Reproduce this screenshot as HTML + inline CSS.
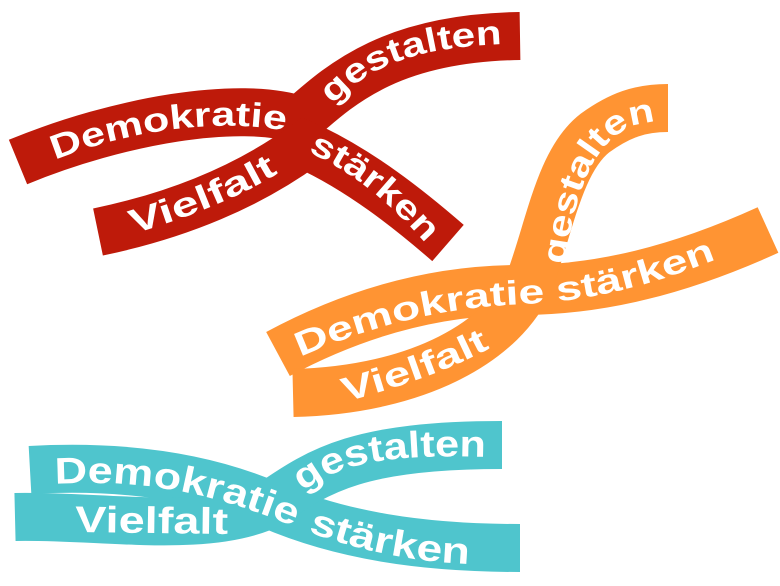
<!DOCTYPE html>
<html><head><meta charset="utf-8"><style>
html,body{margin:0;padding:0;background:#fff;}
svg{display:block}
text{font-family:"Liberation Sans",sans-serif;font-weight:bold;fill:#fff;}
</style></head><body>
<svg width="780" height="586" viewBox="0 0 780 586" xmlns="http://www.w3.org/2000/svg">
<defs>
<path id="rd" d="M55,160 C130,130 220,117 292,132"/>
<path id="rg" d="M333,105 C370,64 420,47 505,44"/>
<path id="rv" d="M133,234 C190,217 240,197 280,172"/>
<path id="rs" d="M308,152 C353,172 388,202 420,237"/>
<path id="od" d="M300,357 C380,322 450,307 525,304 C600,300 660,282 722,257"/>
<path id="ov" d="M345,402 C400,387 450,370 492,347"/>
<path id="og" d="M565,265 C572,215 582,175 602,150 C617,130 637,122 657,122"/>
<path id="td" d="M55,484 C130,480 200,487 295,527"/>
<path id="tg" d="M303,492 C340,462 390,454 490,457"/>
<path id="tv" d="M75,532 L228,534"/>
<path id="ts" d="M308,532 C360,550 410,562 472,564"/>
</defs>
<g fill="none" stroke-linecap="butt">
<path d="M18,162 C120,120 240,100 300,120 C340,85 390,38 520,36" stroke="#be1a0a" stroke-width="48"/>
<path d="M98,232 C180,215 250,185 305,145 C360,170 410,210 448,243" stroke="#be1a0a" stroke-width="48"/>
<path d="M278,354 C360,310 440,290 520,290 C600,290 680,270 768,230" stroke="#ff9433" stroke-width="50"/>
<path d="M293,393 C420,390 505,340 530,280 C550,225 560,160 595,133 C620,115 640,108 668,108" stroke="#ff9433" stroke-width="48"/>
<path d="M30,470 C120,465 200,475 270,505 C340,535 420,548 520,548" stroke="#4fc5cd" stroke-width="48"/>
<path d="M15,517 C100,515 210,535 272,503 C320,470 360,445 502,445" stroke="#4fc5cd" stroke-width="48"/>
</g>
<g font-size="34">
<text><textPath href="#rd" textLength="235" lengthAdjust="spacingAndGlyphs">Demokratie</textPath></text>
<text><textPath href="#rg" textLength="185" lengthAdjust="spacingAndGlyphs">gestalten</textPath></text>
<text><textPath href="#rv" textLength="158" lengthAdjust="spacingAndGlyphs">Vielfalt</textPath></text>
<text><textPath href="#rs" textLength="150" lengthAdjust="spacingAndGlyphs">stärken</textPath></text>
<text><textPath href="#od" textLength="430" lengthAdjust="spacingAndGlyphs">Demokratie stärken</textPath></text>
<text><textPath href="#ov" textLength="155" lengthAdjust="spacingAndGlyphs">Vielfalt</textPath></text>
<text><textPath href="#og" textLength="185" lengthAdjust="spacingAndGlyphs">gestalten</textPath></text>
</g>
<g font-size="37">
<text><textPath href="#td" textLength="245" lengthAdjust="spacingAndGlyphs">Demokratie</textPath></text>
<text><textPath href="#tg" textLength="190" lengthAdjust="spacingAndGlyphs">gestalten</textPath></text>
<text><textPath href="#tv" textLength="153" lengthAdjust="spacingAndGlyphs">Vielfalt</textPath></text>
<text><textPath href="#ts" textLength="165" lengthAdjust="spacingAndGlyphs">stärken</textPath></text>
</g>
</svg>
</body></html>
